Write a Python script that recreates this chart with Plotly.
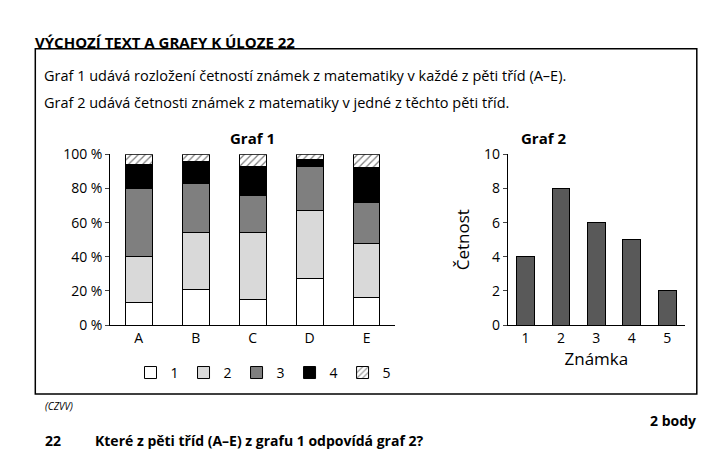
import plotly.graph_objects as go
from plotly.subplots import make_subplots

# Graf 1: rozložení četností známek (%) ve třídách A–E
classes = ['A', 'B', 'C', 'D', 'E']
grade_names = ['1', '2', '3', '4', '5']
shares = {
    '1': [13.5, 21, 15, 27, 16],
    '2': [26.5, 33, 39, 40, 32],
    '3': [40, 29, 22, 26, 24],
    '4': [14, 13, 17, 4, 20],
    '5': [6, 4, 7, 3, 8],
}
# Graf 2: četnosti známek v jedné třídě
grades = ['1', '2', '3', '4', '5']
counts = [4, 8, 6, 5, 2]

fills = {'1': 'white', '2': '#d9d9d9', '3': '#7f7f7f', '4': 'black', '5': 'white'}
font = 'Open Sans, Lato, sans-serif'

fig = make_subplots(rows=1, cols=2)
for g in grade_names:
    fig.add_trace(go.Bar(
        x=classes, y=shares[g], name=g, width=0.47,
        marker=dict(color=fills[g], line=dict(color='black', width=1),
                    pattern=dict(shape='/' if g == '5' else '', fgcolor='black', size=5, solidity=0.25)),
    ), row=1, col=1)
fig.add_trace(go.Bar(x=grades, y=counts, width=0.5, showlegend=False,
                     marker=dict(color='#595959', line=dict(color='black', width=1))), row=1, col=2)

fig.update_layout(
    width=700, height=466, margin=dict(l=0, r=0, t=0, b=0),
    paper_bgcolor='white', plot_bgcolor='white', barmode='stack',
    font=dict(family=font, size=14, color='black'),
    xaxis=dict(domain=[0.146, 0.553], showline=True, linecolor='black', ticks=''),
    yaxis=dict(domain=[0.313, 0.695], range=[0, 100], dtick=20, ticksuffix=' %',
               showline=True, linecolor='black', ticks='outside', ticklen=4, showgrid=False),
    xaxis2=dict(domain=[0.714, 0.967], showline=True, linecolor='black', ticks='',
                title=dict(text='Známka', standoff=4)),
    yaxis2=dict(domain=[0.313, 0.695], range=[0, 10], dtick=2, anchor='x2',
                showline=True, linecolor='black', ticks='outside', ticklen=4, showgrid=False,
                title=dict(text='Četnost', standoff=10)),
    legend=dict(orientation='h', x=0.175, y=0.206, xanchor='left', yanchor='middle',
                font=dict(size=14), itemwidth=30, traceorder='normal'),
)

fig.add_annotation(text='<b>Graf 1</b>', x=0.349, y=0.758, xref='paper', yref='paper', showarrow=False, font=dict(size=15))
fig.add_annotation(text='<b>Graf 2</b>', x=0.80, y=0.758, xref='paper', yref='paper', showarrow=False, font=dict(size=15))
fig.add_annotation(text='<b>VÝCHOZÍ TEXT A GRAFY K ÚLOZE 22</b>', x=0.036, y=0.974, xref='paper', yref='paper',
                   xanchor='left', showarrow=False, font=dict(size=15))
fig.add_annotation(text='Graf 1 udává rozložení četností známek z matematiky v každé z pěti tříd (A–E).',
                   x=0.049, y=0.897, xref='paper', yref='paper', xanchor='left', showarrow=False, font=dict(size=14.5))
fig.add_annotation(text='Graf 2 udává četnosti známek z matematiky v jedné z těchto pěti tříd.',
                   x=0.049, y=0.837, xref='paper', yref='paper', xanchor='left', showarrow=False, font=dict(size=14.5))
fig.add_annotation(text='<i>(CZVV)</i>', x=0.05, y=0.112, xref='paper', yref='paper', xanchor='left', showarrow=False, font=dict(size=10))
fig.add_annotation(text='<b>2 body</b>', x=0.986, y=0.073, xref='paper', yref='paper', xanchor='right', showarrow=False, font=dict(size=14))
fig.add_annotation(text='<b>22</b>', x=0.05, y=0.028, xref='paper', yref='paper', xanchor='left', showarrow=False, font=dict(size=14))
fig.add_annotation(text='<b>Které z pěti tříd (A–E) z grafu 1 odpovídá graf 2?</b>', x=0.122, y=0.028,
                   xref='paper', yref='paper', xanchor='left', showarrow=False, font=dict(size=14))

fig.add_shape(type='rect', x0=0.039, x1=0.984, y0=0.159, y1=0.931, xref='paper', yref='paper',
              line=dict(color='black', width=1.5))

fig.write_html('out.html')
